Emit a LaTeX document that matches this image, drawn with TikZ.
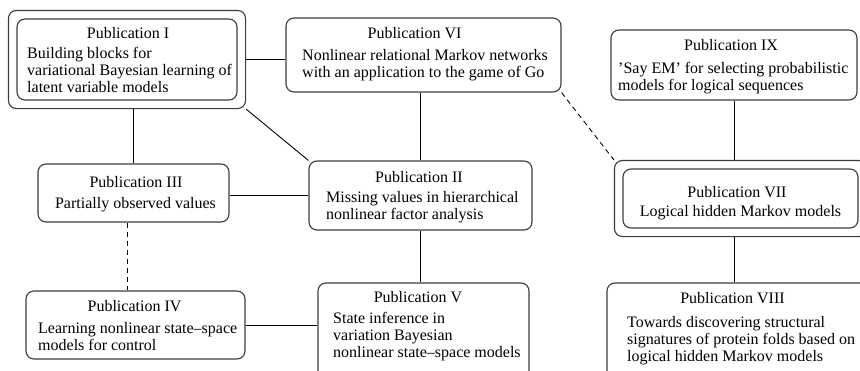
\documentclass[tikz,border=0pt]{standalone}
\usepackage{fontspec}
\setmainfont{Liberation Serif}
\usetikzlibrary{fit}
\definecolor{boxline}{RGB}{60,60,60}
\tikzset{
  pubbox/.style={draw=boxline, line width=1.1pt, rounded corners=8pt, inner sep=0pt},
  outerbox/.style={pubbox, inner sep=8pt},
  head/.style={inner sep=0pt, anchor=base},
  % multi-line text: the base anchor sits on the last line
  body/.style={inner sep=0pt, anchor=base west, align=left},
  bodyc/.style={inner sep=0pt, anchor=base},
  link/.style={draw=black, line width=0.9pt},
  weaklink/.style={link, dash pattern=on 5pt off 4pt},
}
\begin{document}
\begin{tikzpicture}[x=1pt, y=-1pt, font=\fontsize{16}{17}\selectfont]
\useasboundingbox (0,0) rectangle (860,370);
\clip (0,0) rectangle (860,370);

% publication boxes
\node[pubbox, minimum width=220pt, minimum height=81pt] (p1) at (127,59.5) {};
\node[outerbox, fit=(p1)] (p1o) {};
\node[pubbox, minimum width=275pt, minimum height=74pt] (p6) at (423.5,55) {};
\node[pubbox, minimum width=246pt, minimum height=70pt] (p9) at (734,65) {};
\node[pubbox, minimum width=223pt, minimum height=69pt] (p2) at (420.5,195.5) {};
\node[pubbox, minimum width=191pt, minimum height=58pt] (p3) at (133.5,193) {};
\node[pubbox, minimum width=235pt, minimum height=59pt] (p7) at (740.5,198.5) {};
\node[outerbox, fit=(p7)] (p7o) {};
\node[pubbox, minimum width=219pt, minimum height=68pt] (p4) at (135.5,325) {};
\node[pubbox, minimum width=211pt, minimum height=97pt] (p5) at (423.5,331.5) {};
\node[pubbox, minimum width=263pt, minimum height=97pt] (p8) at (738.5,331.5) {};

% titles and descriptions
\node[head] (t1) at (128,38) {Publication I};
\node[body] (b1) at (27,92) {Building blocks for\\variational Bayesian learning of\\latent variable models};
\node[head] (t6) at (414.5,38) {Publication VI};
\node[body] (b6) at (302,77) {Nonlinear relational Markov networks\\with an application to the game of Go};
\node[head] (t9) at (731,50) {Publication IX};
\node[body] (b9) at (618,90) {'Say EM' for selecting probabilistic\\models for logical sequences};
\node[head] (t2) at (419,182) {Publication II};
\node[body] (b2) at (326,219) {Missing values in hierarchical\\nonlinear factor analysis};
\node[head] (t3) at (136,187) {Publication III};
\node[bodyc] (b3) at (135.5,208) {Partially observed values};
\node[head] (t7) at (737,197) {Publication VII};
\node[bodyc] (b7) at (740.5,216) {Logical hidden Markov models};
\node[head] (t4) at (134.5,311) {Publication IV};
\node[body] (b4) at (38,350) {Learning nonlinear state--space\\models for control};
\node[head] (t5) at (418,302) {Publication V};
\node[body] (b5) at (333,357) {State inference in\\variation Bayesian\\nonlinear state--space models};
\node[head] (t8) at (732.5,303) {Publication VIII};
\node[body] (b8) at (627,361) {Towards discovering structural\\signatures of protein folds based on\\logical hidden Markov models};

% connections
\draw[link] (p1o.east) -- (p1o.east -| p6.west);
\draw[link] (p3.north) -- (p3.north |- p1o.south);
\draw[link] (p1o.south east) -- (p2.north west);
\draw[link] (p2.north) -- (p2.north |- p6.south);
\draw[link] (p2.west) -- (p2.west -| p3.east);
\draw[weaklink] ([xshift=-6pt]p3.south) -- ([xshift=-6pt]p3.south |- p4.north);
\draw[link] (p2.south) -- (p2.south |- p5.north);
\draw[link] (p4.east) -- (p4.east -| p5.west);
\draw[weaklink] (p6.south east) -- (p7o.north west);
\draw[link] (p9.south) -- (p9.south |- p7o.north);
\draw[link] (p9.south |- p7o.south) -- (p9.south |- p8.north);
\end{tikzpicture}
\end{document}
